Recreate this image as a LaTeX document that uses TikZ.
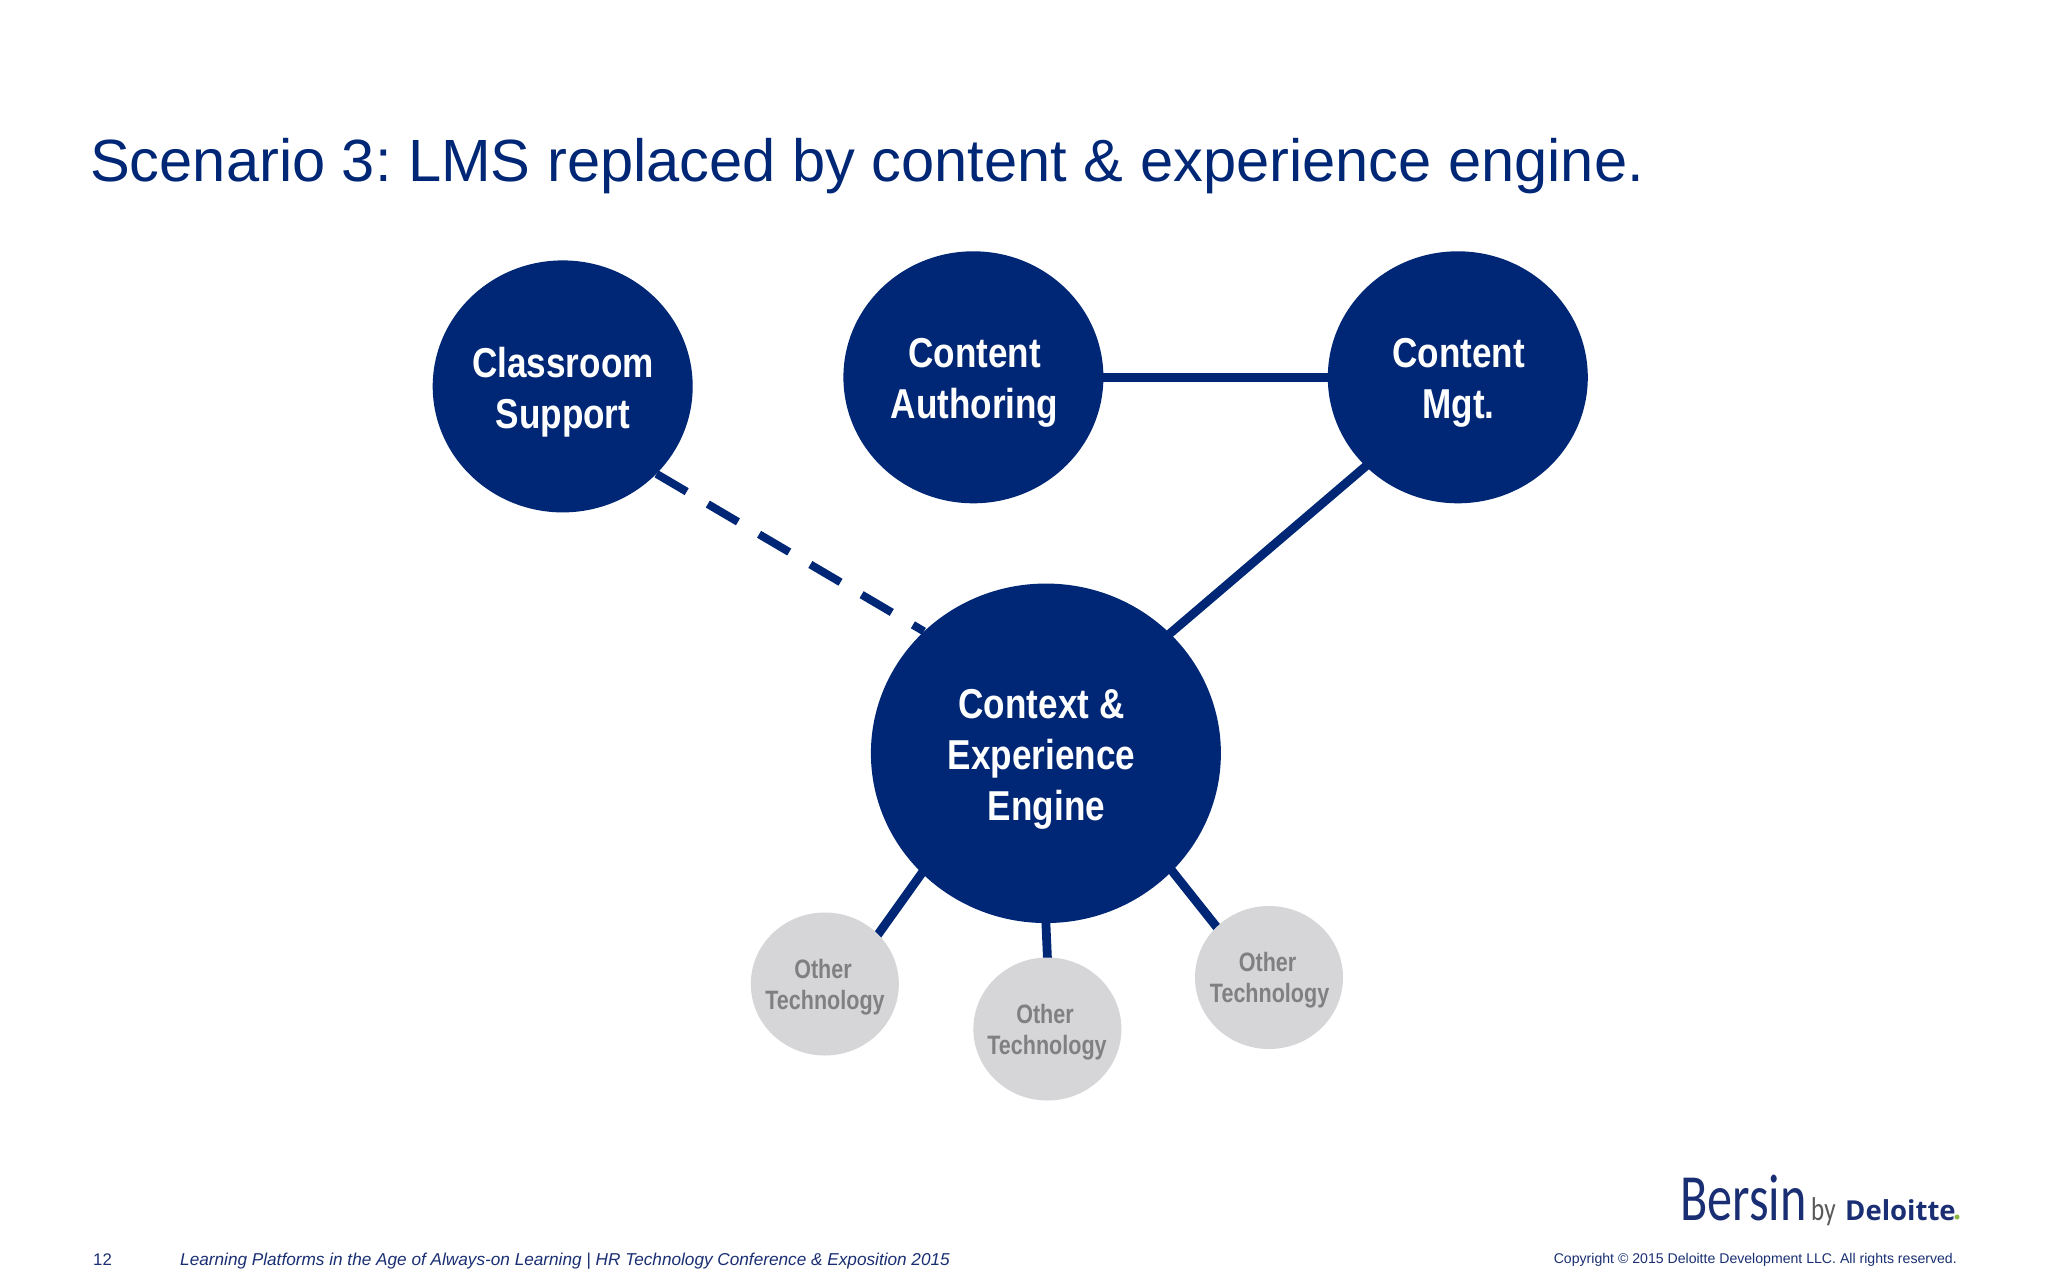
\documentclass[tikz,border=0pt]{standalone}
\usepackage{fontspec}
\usetikzlibrary{shapes.geometric,backgrounds}
\setmainfont{Liberation Sans}
\newfontfamily\condf[FakeStretch=0.84]{Liberation Sans}
\newfontfamily\condg[FakeStretch=0.81]{Liberation Sans}
\newfontfamily\bersinf[FakeStretch=0.76]{Carlito}
\newfontfamily\delf{Open Sans}
\definecolor{navy}{HTML}{002776}
\definecolor{inktxt}{HTML}{1A2F73}
\definecolor{bubble}{HTML}{D6D5D7}
\definecolor{othertxt}{HTML}{808083}
\definecolor{dotgreen}{HTML}{8DB53C}
\tikzset{
  x=1pt,y=-1pt,
  hub/.style={ellipse,fill=navy,draw=none,inner sep=0pt,minimum width=260pt,minimum height=252pt},
  bighub/.style={hub,minimum width=350pt,minimum height=339.5pt},
  other/.style={ellipse,fill=bubble,draw=none,inner sep=0pt,minimum width=148pt,minimum height=143pt},
  hubtext/.style={inner sep=0pt,text=white,align=center,font=\condf\bfseries\fontsize{41.8}{51}\selectfont},
  othertext/.style={inner sep=0pt,text=othertxt,align=center,font=\condg\bfseries\fontsize{26.6}{31}\selectfont},
  link/.style={draw=navy,line width=8.8pt},
  tie/.style={link,shorten <=-3pt,shorten >=-3pt},
  dashlink/.style={link,line width=8pt,dash pattern=on 35pt off 24.5pt},
  txt/.style={inner sep=0pt,anchor=base west}
}
\begin{document}
\frenchspacing
\begin{tikzpicture}
\useasboundingbox (0,0) rectangle (2048,1280);
\node[txt,text=navy,font=\fontsize{59.6}{70}\selectfont] (title) at (90,181.5) {Scenario 3: LMS replaced by content \& experience engine.};

\node[hub] (classroom) at (562.7,386.4) {};
\node[hub] (authoring) at (973.4,377.3) {};
\node[hub] (mgt) at (1457.8,377.3) {};
\node[bighub] (engine) at (1045.9,753.3) {};
\node[other] (otherl) at (824.8,984) {};
\node[other] (otherm) at (1047.4,1029) {};
\node[other] (otherr) at (1269,977.5) {};

\node[hubtext] (classroomtext) at (563,392.5) {Classroom\\Support};
\node[hubtext] (authoringtext) at (974.5,383) {Content\\Authoring};
\node[hubtext] (mgttext) at (1458.5,383) {Content\\Mgt.};
\node[hubtext] (enginetext) at (1041.5,759.5) {Context \&\\Experience\\\hspace*{10pt}Engine};
\node[othertext] (otherltext) at (825,987) {Other\hspace*{4pt}\\Technology};
\node[othertext] (othermtext) at (1047,1032) {Other\hspace*{4pt}\\Technology};
\node[othertext] (otherrtext) at (1269.6,980.5) {Other\hspace*{4pt}\\Technology};

\begin{scope}[on background layer]
\fill[white] (0,0) rectangle (2048,1280);
\draw[tie] (authoring.0) -- (mgt.180);
\draw[tie] (mgt.224.5) -- (engine.44);
\draw[dashlink] (classroom.-43.9) -- (engine.135.8);
\draw[tie] (engine.224) -- (otherl.43.8);
\draw[tie] (engine.-90) -- (otherm.90);
\draw[tie] (engine.-43) -- (otherr.136);
\end{scope}

\node[txt,text=inktxt,font=\fontsize{16.8}{20}\selectfont] (page) at (93,1265) {12};
\node[txt,text=inktxt,font=\itshape\fontsize{17.2}{20}\selectfont] (foot) at (180,1265) {Learning Platforms in the Age of Always-on Learning | HR Technology Conference \& Exposition 2015};
\node[inner sep=0pt,anchor=base east,text=inktxt,font=\fontsize{14.1}{18}\selectfont] (copy) at (1957,1263) {Copyright \textcopyright\ 2015 Deloitte Development LLC. All rights reserved.};

\node[txt,text=inktxt,font=\bersinf\fontsize{66}{70}\selectfont] (bersin) at (1680,1220) {Bersin};
\node[txt,text=black!65,font=\bersinf\fontsize{33}{34}\selectfont] (by) at (1811,1220) {by};
\node[txt,text=inktxt,font=\delf\bfseries\fontsize{27.5}{32}\selectfont] (deloitte) at (1845,1220) {Deloitte};
\node[circle,fill=dotgreen,inner sep=0pt,minimum size=5pt] (dot) at (1957,1217) {};
\end{tikzpicture}
\end{document}
